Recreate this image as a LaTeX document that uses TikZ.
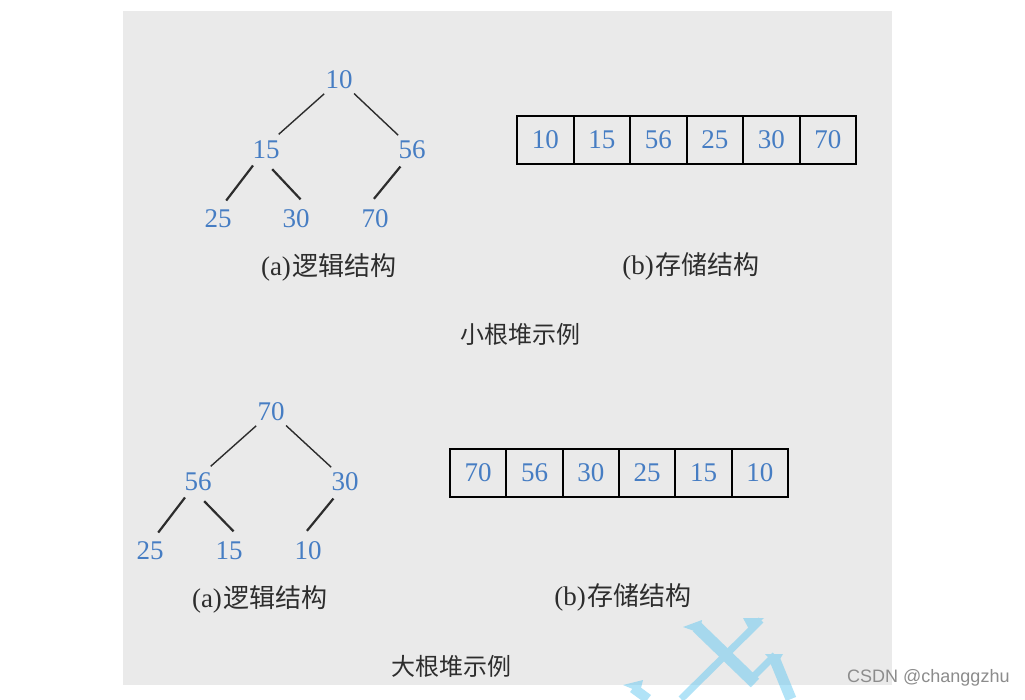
\documentclass[tikz,border=0pt]{standalone}
\usepackage{fontspec}
\setmainfont{Liberation Serif}
\newfontfamily\cjk{Noto Sans CJK SC}
\newfontfamily\wmfont{Liberation Sans}
\definecolor{bg}{RGB}{234,234,234}
\definecolor{numblue}{RGB}{70,125,195}
\definecolor{edgegray}{RGB}{45,45,45}
\definecolor{captext}{RGB}{45,45,45}
\definecolor{logoblue}{RGB}{100,200,240}
\definecolor{wmgray}{RGB}{140,140,140}
\begin{document}
\begin{tikzpicture}[x=1pt,y=-1pt,
  num/.style={text=numblue,font=\fontsize{27}{27}\selectfont,circle,inner sep=0pt,minimum size=40pt},
  upedge/.style={draw=edgegray,line width=1.4pt},
  lowedge/.style={draw=edgegray,line width=2.2pt},
  cell/.style={draw=black,line width=2pt,minimum width=56.5pt,minimum height=48pt,inner sep=0pt,text=numblue,font=\fontsize{27}{27}\selectfont},
  caption/.style={text=captext,font=\fontsize{27}{27}\selectfont,inner sep=0pt},
  title/.style={text=captext,font=\cjk\fontsize{24}{24}\selectfont,inner sep=0pt},
  wm/.style={text=wmgray,font=\wmfont\fontsize{18}{18}\selectfont,inner sep=0pt,anchor=west}
]
\newcommand{\cjklabel}[2]{(#1)\hspace{2pt}{\cjk\fontsize{26}{26}\selectfont #2}}
\useasboundingbox (0,0) rectangle (1025,699);
\fill[white] (0,0) rectangle (1025,699);
\fill[bg] (123,11) rectangle (892,685);

% ---------- small-root heap: logical structure ----------
\node[num] (a10) at (339,80) {10};
\node[num] (a15) at (266,150) {15};
\node[num] (a56) at (412,150) {56};
\node[num] (a25) at (218,219) {25};
\node[num] (a30) at (296,219) {30};
\node[num] (a70) at (375,219) {70};
\draw[upedge] (a10.223) -- (a15.51);
\draw[upedge] (a10.318) -- (a56.133);
\draw[lowedge] (a15.230) -- (a25.66);
\draw[lowedge] (a15.288) -- (a30.77);
\draw[lowedge] (a56.235) -- (a70.93);
\node[caption] (acap) at (329,267) {\cjklabel{a}{逻辑结构}};

% ---------- small-root heap: storage ----------
\node[cell] (b1) at (545.25,140) {10};
\node[cell] (b2) at (601.75,140) {15};
\node[cell] (b3) at (658.25,140) {56};
\node[cell] (b4) at (714.75,140) {25};
\node[cell] (b5) at (771.25,140) {30};
\node[cell] (b6) at (827.75,140) {70};
\node[caption] (bcap) at (691,266) {\cjklabel{b}{存储结构}};

\node[title] (t1) at (520,334) {小根堆示例};

% ---------- big-root heap: logical structure ----------
\node[num] (c70) at (271,412) {70};
\node[num] (c56) at (198,482) {56};
\node[num] (c30) at (345,482) {30};
\node[num] (c25) at (150,551) {25};
\node[num] (c15) at (229,551) {15};
\node[num] (c10) at (308,551) {10};
\draw[upedge] (c70.223) -- (c56.51);
\draw[upedge] (c70.318) -- (c30.133);
\draw[lowedge] (c56.230) -- (c25.66);
\draw[lowedge] (c56.288) -- (c15.77);
\draw[lowedge] (c30.235) -- (c10.93);
\node[caption] (ccap) at (260,599) {\cjklabel{a}{逻辑结构}};

% ---------- big-root heap: storage ----------
\node[cell] (d1) at (478.2,473) {70};
\node[cell] (d2) at (534.5,473) {56};
\node[cell] (d3) at (590.8,473) {30};
\node[cell] (d4) at (647.2,473) {25};
\node[cell] (d5) at (703.5,473) {15};
\node[cell] (d6) at (759.8,473) {10};
\node[caption] (dcap) at (623,597) {\cjklabel{b}{存储结构}};

\node[title] (t2) at (451,666) {大根堆示例};

% ---------- watermark ----------
\begin{scope}[transparency group,opacity=0.5,line cap=butt]
\draw[logoblue,line width=12pt] (697,627) -- (755,683);
\fill[logoblue] (683,627) -- (702,620) -- (700,633) -- cycle;
\draw[logoblue,line width=7pt] (747,683) -- (775,655);
\draw[logoblue,line width=7pt] (761,620) -- (681,699);
\fill[logoblue] (743,618) -- (764,618) -- (750,631) -- cycle;
\draw[logoblue,line width=11pt] (775,660) -- (791,699);
\fill[logoblue] (765,654) -- (783,654) -- (776,666) -- cycle;
\draw[logoblue,line width=10pt] (633,688) -- (648,699);
\fill[logoblue] (623,685) -- (643,680) -- (640,692) -- cycle;
\end{scope}
\node[wm] (wmtext) at (847,678) {CSDN @changgzhu};
\end{tikzpicture}
\end{document}
